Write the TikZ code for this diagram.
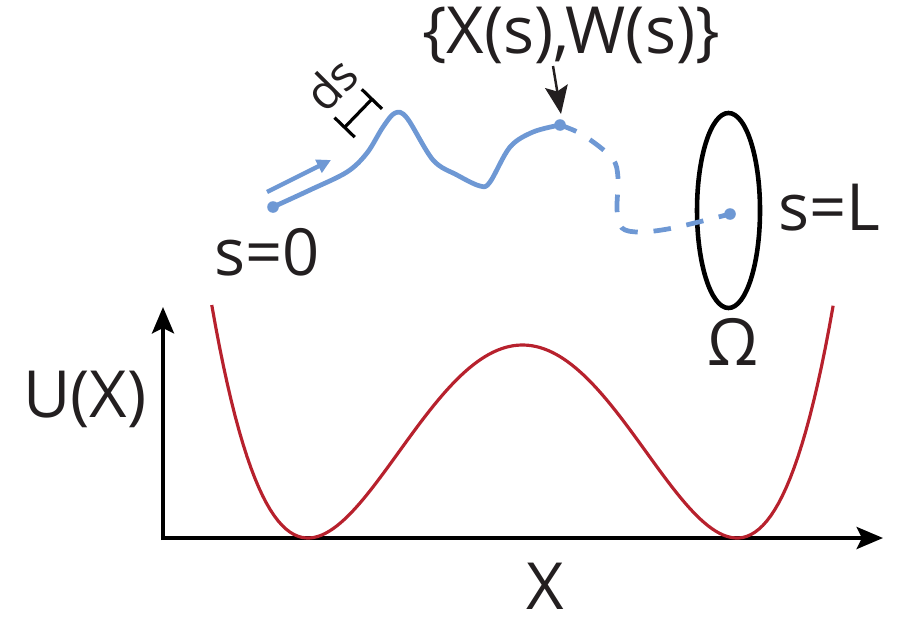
\documentclass[tikz,border=0pt]{standalone}
\usepackage{fontspec}
\setmainfont{Open Sans}
\usetikzlibrary{arrows.meta}
\definecolor{pathblue}{RGB}{110,152,212}
\definecolor{wellred}{RGB}{183,33,45}
\definecolor{ink}{RGB}{35,31,32}
\begin{document}
\begin{tikzpicture}[x=0.02cm,y=-0.02cm,
  lbl/.style={text=ink,inner sep=0pt,font=\fontsize{37}{40}\selectfont,anchor=base},
  bluepath/.style={draw=pathblue,line width=2.7pt,line cap=round,line join=round},
  bluedash/.style={bluepath,line cap=butt,dash pattern=on 10pt off 9pt},
  dotstyle/.style={fill=pathblue},
  axis/.style={draw=black,line width=2.4pt,-{Stealth[length=15pt,width=12.5pt,inset=3pt]}},
  pointer/.style={draw=ink,line width=1.4pt,-{Stealth[length=16pt,width=13pt,inset=3pt]}},
  well/.style={draw=wellred,line width=1.8pt},
  region/.style={draw=black,line width=2.6pt}]
\useasboundingbox (0,0) rectangle (918,622);

% axes
\coordinate (O) at (163,538);
\coordinate (ytip) at (163,307);
\coordinate (xtip) at (883,538);
\draw[axis] ([yshift=-1.2pt]O) -- (ytip);
\draw[axis] ([xshift=-1.2pt]O) -- (xtip);

% potential
\draw[well,domain=-1.4487:1.4487,samples=160,variable=\t]
  plot ({522.5+214.5*\t},{538-193*(1-(\t)*(\t))*(1-(\t)*(\t))});

% labels
\node[lbl] (U) at (85,417) {U(X)};
\node[lbl] (Xl) at (545,609) {X};
\node[lbl] (s0) at (267,275) {s=0};
\node[lbl] (sL) at (829,230) {s=L};
\node[lbl] (Om) at (733,365) {Ω};
\node[lbl] (XW) at (571,53) {\{X(s),W(s)\}};
\node[text=ink,inner sep=0pt,font=\fontsize{27}{28}\selectfont,rotate=45] (ds) at (331,84) {ds};

% region Omega
\draw[region] (728.5,210.5) ellipse [x radius=31.5, y radius=97.5];

% path
\coordinate (start) at (273,207);
\coordinate (mid) at (560,125);
\coordinate (end) at (730,214);
\draw[bluepath] plot[smooth,tension=0.55] coordinates {(273,207) (310,190) (347,172) (367,153) (383,127) (395,113) (407,118) (433,160) (457,175) (480,186) (490,182) (510,147) (533,132) (560,125)};
\draw[bluedash] plot[smooth,tension=0.55] coordinates {(560,125) (583,135) (612,158) (618,178) (617,210) (622,228) (640,232) (673,228) (730,214)};
\fill[dotstyle] (start) circle (3.3pt);
\fill[dotstyle] (mid) circle (3.3pt);
\fill[dotstyle] (end) circle (3.3pt);

% direction arrow
\coordinate (da1) at (267,192);
\coordinate (da2) at (331,160);
\draw[draw=pathblue,line width=2.5pt,-{Triangle[length=8pt,width=8pt]}] (da1) -- (da2);

% ds bar
\coordinate (b1) at (343.5,128.5);
\coordinate (b2) at (373,98);
\draw[line width=1.8pt,{Bar[width=16pt]}-{Bar[width=16pt]}] (b1) -- (b2);

% pointer
\coordinate (p1) at (553,66);
\coordinate (p2) at (561,114);
\draw[pointer] (p1) -- (p2);
\end{tikzpicture}
\end{document}
